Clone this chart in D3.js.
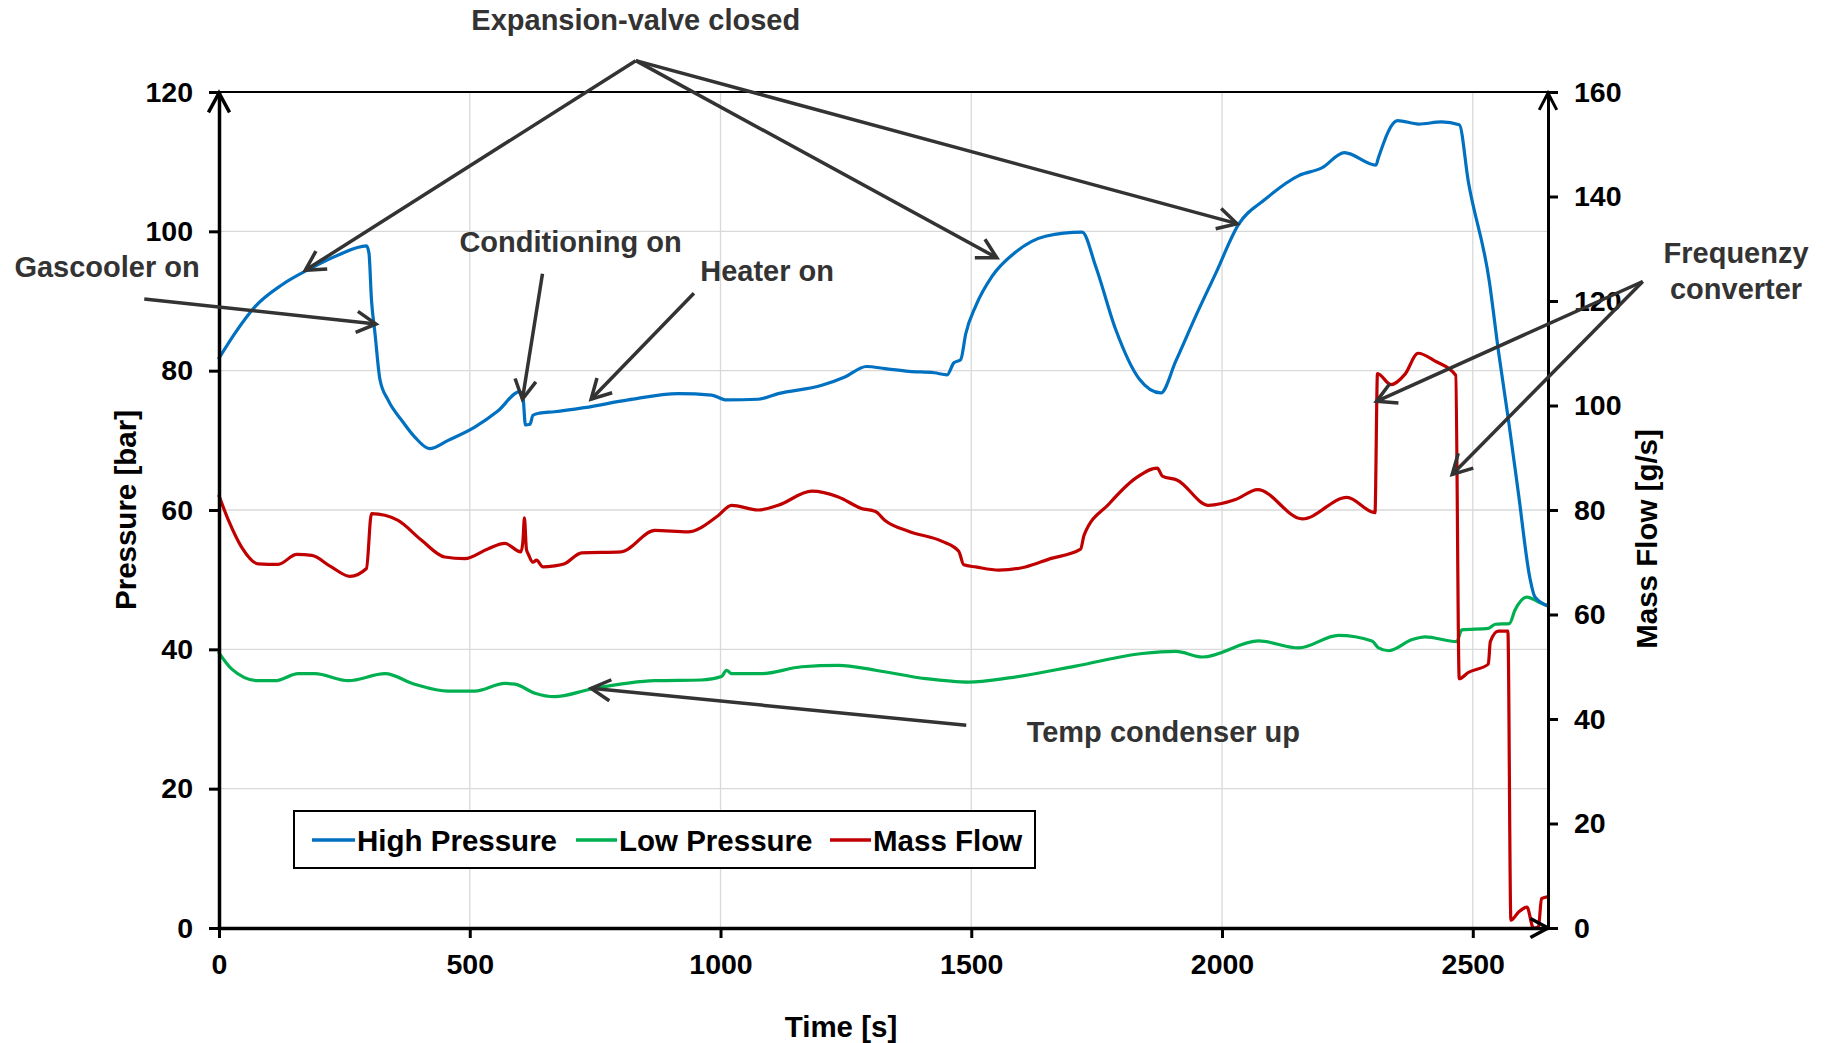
<!DOCTYPE html>
<html><head><meta charset="utf-8">
<script src="https://cdn.jsdelivr.net/npm/d3@7"></script>
<style>
body{margin:0;background:#fff;}
svg{display:block;}
text{font-family:"Liberation Sans",Arial,Helvetica,sans-serif;font-weight:bold;}
</style>
</head><body>
<svg id="chart" width="1825" height="1043"></svg>
<script>
// ---------- DATA ----------
const seriesNames = ["High Pressure", "Low Pressure", "Mass Flow"];
const seriesColors = ["#0070C0", "#00B050", "#C00000"];

const hpTime  = [0,32,72,125,178,238,294,299,304,311,321,337,364,390,420,457,510,556,600,606,611,620,626,639,669,729,816,916,982,1012,1075,1115,1202,1248,1291,1328,1376,1426,1452,1465,1479,1489,1509,1542,1588,1648,1721,1748,1788,1835,1878,1908,1948,1987,2033,2086,2153,2199,2244,2307,2312,2350,2392,2438,2473,2491,2533,2551,2571,2591,2614,2624,2651];
const hpValue = [81.8,85.4,89.2,92.3,94.5,96.6,97.9,96.9,90.2,85.4,78.7,75.8,72.9,70.5,68.8,70,71.9,74.2,77,76.3,72.2,72.3,73.6,73.9,74.1,74.7,75.8,76.7,76.5,75.8,75.9,76.7,77.9,79.1,80.6,80.3,79.9,79.7,79.4,81.1,81.6,85.3,89.3,93.6,97,99.3,99.9,95,85.9,78.8,76.8,81.4,87.9,93.9,101,104.6,108,109.1,111.3,109.5,110.6,115.9,115.4,115.7,115.3,107.2,92.8,82.9,73,62.4,50.2,47.5,46.2];

const lpTime  = [0,25,78,112,158,191,258,331,390,457,510,570,590,630,669,743,869,962,1002,1012,1022,1082,1162,1235,1309,1409,1495,1575,1708,1841,1908,1961,2073,2153,2232,2299,2312,2332,2379,2405,2468,2478,2531,2545,2573,2584,2608,2631,2651];
const lpValue = [39.5,37.2,35.5,35.5,36.5,36.5,35.5,36.5,35,34,34,35.1,35,33.7,33.2,34.3,35.5,35.6,36.1,37,36.5,36.5,37.5,37.7,37,35.8,35.3,35.9,37.6,39.4,39.7,38.9,41.2,40.2,42,41.2,40.2,39.8,41.4,41.8,41.1,42.8,43,43.6,43.7,45.6,47.5,46.8,46.2];

const mfTime  = [0,19,45,78,118,155,185,224,261,294,304,331,357,404,450,490,537,570,602,606,609,613,617,626,633,646,669,689,723,802,869,935,995,1022,1075,1115,1182,1235,1281,1309,1328,1376,1442,1475,1485,1509,1555,1608,1655,1718,1725,1775,1828,1871,1881,1911,1973,2027,2071,2160,2249,2305,2310,2337,2365,2391,2425,2466,2473,2491,2531,2535,2551,2570,2576,2591,2608,2621,2631,2637,2651];
const mfValue = [82.7,78,72.9,69.7,69.6,71.5,71.3,69.1,67.3,68.8,79.3,79,78,74.2,71,70.7,72.6,73.6,72,74,78.5,72.5,71.5,70,70.4,69.1,69.3,69.7,71.8,72,76.1,75.8,78.9,80.9,80,80.9,83.6,82.5,80.3,79.7,78,75.9,74,72.1,69.5,69.1,68.5,69.1,70.6,72.5,75.2,81.2,86.1,88,86.5,85.7,80.9,82,83.9,78.3,82.4,79.5,106.1,104,106,110,108.5,105.8,47.7,48.9,50.5,54.8,56.8,56.8,1.5,3,4,0,0.2,5.6,6];

const xTicks = [0,500,1000,1500,2000,2500];
const yLeftTicks = [0,20,40,60,80,100,120];
const yRightTicks = [0,20,40,60,80,100,120,140,160];

const xTitle = "Time [s]";
const yLeftTitle = "Pressure [bar]";
const yRightTitle = "Mass Flow [g/s]";

// annotations in data units (time [s], pressure [bar])
const noteTexts = [
  {text:"Expansion-valve closed", t:831, p:128.9, anchor:"middle"},
  {text:"Gascooler on", t:-408, p:93.4, anchor:"start"},
  {text:"Conditioning on", t:701, p:97.1, anchor:"middle"},
  {text:"Heater on", t:1093, p:92.8, anchor:"middle"},
  {text:"Frequenzy", t:3025, p:95.4, anchor:"middle"},
  {text:"converter", t:3025, p:90.3, anchor:"middle"},
  {text:"Temp condenser up", t:1883, p:26.7, anchor:"middle"}
];
const noteArrows = [
  {from:[831,124.5], to:[172,94.4]},
  {from:[831,124.5], to:[1551,96.2]},
  {from:[831,124.5], to:[2030,101.1]},
  {from:[-149,90.3], to:[313,86.7]},
  {from:[645,93.9], to:[605,75.9]},
  {from:[947,91.1], to:[742,75.9]},
  {from:[2839,92.8], to:[2308,75.6]},
  {from:[2839,92.8], to:[2459,65.1]},
  {from:[1490,29.1], to:[742,34.4]}
];

// ---------- CHART ----------
const svg = d3.select("#chart");
svg.append("rect").attr("width",1825).attr("height",1043).attr("fill","#fff");

const L=219, R=1548, T=92, B=928;
const x = d3.scaleLinear().domain([0,2650]).range([L,R]);
const yL = d3.scaleLinear().domain([0,120]).range([B,T]);
const yR = d3.scaleLinear().domain([0,160]).range([B,T]);

// grid
const grid = svg.append("g").attr("stroke","#d9d9d9").attr("stroke-width",1.3);
xTicks.filter(d=>d>0).forEach(d=>{
  grid.append("line").attr("x1",x(d)).attr("x2",x(d)).attr("y1",T).attr("y2",B);
});
yLeftTicks.filter(d=>d>0 && d<120).forEach(d=>{
  grid.append("line").attr("x1",L).attr("x2",R).attr("y1",yL(d)).attr("y2",yL(d));
});

// lines
function drawLine(times, vals, yScale, color){
  const pts = times.map((t,i)=>[t, vals[i]]);
  const gen = d3.line().x(d=>x(d[0])).y(d=>yScale(d[1])).curve(d3.curveMonotoneX);
  svg.append("path").datum(pts).attr("d",gen).attr("fill","none")
     .attr("stroke",color).attr("stroke-width",3.2).attr("stroke-linejoin","round").attr("stroke-linecap","round");
}
drawLine(lpTime, lpValue, yL, seriesColors[1]);
drawLine(mfTime, mfValue, yR, seriesColors[2]);
drawLine(hpTime, hpValue, yL, seriesColors[0]);

// top border
svg.append("line").attr("x1",L).attr("x2",R).attr("y1",T).attr("y2",T).attr("stroke","#000").attr("stroke-width",2);

// axes
function styleAxis(g, fs){
  g.select(".domain").attr("stroke","#000").attr("stroke-width",3.5);
  g.selectAll(".tick line").attr("stroke","#000").attr("stroke-width",3);
  g.selectAll(".tick text").attr("fill","#000").style("font-size",fs+"px")
   .style("font-family",'"Liberation Sans",Arial,sans-serif').style("font-weight","bold");
}
const gx = svg.append("g").attr("transform",`translate(0,${B})`)
  .call(d3.axisBottom(x).tickValues(xTicks).tickSize(10).tickSizeOuter(0).tickPadding(16).tickFormat(d3.format("d")));
styleAxis(gx, 28.5);
const gyl = svg.append("g").attr("transform",`translate(${L},0)`)
  .call(d3.axisLeft(yL).tickValues(yLeftTicks).tickSize(10).tickSizeOuter(0).tickPadding(16).tickFormat(d3.format("d")));
styleAxis(gyl, 28.5);
const gyr = svg.append("g").attr("transform",`translate(${R},0)`)
  .call(d3.axisRight(yR).tickValues(yRightTicks).tickSize(10).tickSizeOuter(0).tickPadding(16).tickFormat(d3.format("d")));
styleAxis(gyr, 28.5);
gyr.select(".domain").attr("stroke-width",3);

// arrow helper
function chevron(g, x2, y2, ang, len, spread, color, w){
  const p1 = [x2 - len*Math.cos(ang-spread), y2 - len*Math.sin(ang-spread)];
  const p2 = [x2 - len*Math.cos(ang+spread), y2 - len*Math.sin(ang+spread)];
  g.append("path").attr("d",`M${p1[0]},${p1[1]}L${x2},${y2}L${p2[0]},${p2[1]}`)
   .attr("fill","none").attr("stroke",color).attr("stroke-width",w)
   .attr("stroke-linejoin","miter").attr("stroke-linecap","butt");
}
// axis arrows
const ax = svg.append("g");
chevron(ax, L, T+1, -Math.PI/2, 22, 0.5, "#000", 3.5);
chevron(ax, R, T+1, -Math.PI/2, 19, 0.48, "#000", 3);
chevron(ax, R, B, 0, 20, 0.5, "#000", 3.5);

// axis titles
svg.append("text").attr("transform",`translate(126,510) rotate(-90)`)
  .attr("text-anchor","middle").attr("dy","0.35em").style("font-size","29.5px").attr("fill","#000").text(yLeftTitle);
svg.append("text").attr("transform",`translate(1647,539) rotate(-90)`)
  .attr("text-anchor","middle").attr("dy","0.35em").style("font-size","29.5px").attr("fill","#000").text(yRightTitle);
svg.append("text").attr("x",841).attr("y",1027).attr("dy","0.35em")
  .attr("text-anchor","middle").style("font-size","29.5px").attr("fill","#000").text(xTitle);

// legend
const lg = svg.append("g");
lg.append("rect").attr("x",294).attr("y",811).attr("width",741).attr("height",57)
  .attr("fill","#fff").attr("stroke","#000").attr("stroke-width",2);
const legX = [[312,357],[576,619],[830,873]];
seriesNames.forEach((n,i)=>{
  lg.append("line").attr("x1",legX[i][0]).attr("x2",legX[i][1]-2).attr("y1",840).attr("y2",840)
    .attr("stroke",seriesColors[i]).attr("stroke-width",3.5);
  lg.append("text").attr("x",legX[i][1]).attr("y",840).attr("dy","0.36em")
    .style("font-size","29.5px").attr("fill","#000").text(n);
});

// annotations
const ng = svg.append("g");
noteTexts.forEach(n=>{
  ng.append("text").attr("x",x(n.t)).attr("y",yL(n.p)).attr("text-anchor",n.anchor)
    .style("font-size","29px").attr("fill","#333").text(n.text);
});
noteArrows.forEach(a=>{
  const x1=x(a.from[0]), y1=yL(a.from[1]), x2=x(a.to[0]), y2=yL(a.to[1]);
  ng.append("line").attr("x1",x1).attr("y1",y1).attr("x2",x2).attr("y2",y2)
    .attr("stroke","#333").attr("stroke-width",3.5);
  chevron(ng, x2, y2, Math.atan2(y2-y1, x2-x1), 22, 0.5, "#333", 3.5);
});
</script>
</body></html>
